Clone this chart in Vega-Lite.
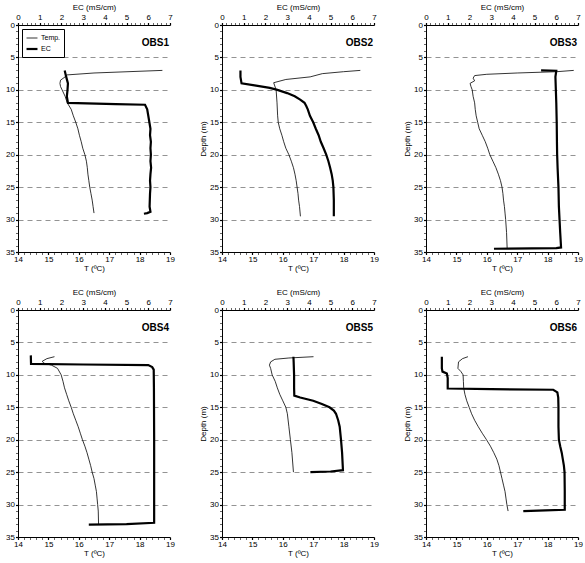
{
"$schema":"https://vega.github.io/schema/vega-lite/v6.json",
"padding":{"left":5,"top":3,"right":0,"bottom":0},
"config":{"font":"Liberation Sans","view":{"stroke":null},
 "axis":{"labelFontSize":8,"titleFontSize":8,"titleFontWeight":"normal","labelColor":"black","titleColor":"black","domainColor":"black","tickColor":"black","domainWidth":1,"tickSize":2.5,"tickCount":100,"labelOverlap":false,"labelFlush":false,"labelPadding":1},
 "text":{"font":"Liberation Sans"}},
"data":{"values":[
{"obs":"OBS1","var":"Temp.","depth":7.0,"v":18.75},{"obs":"OBS1","var":"Temp.","depth":7.4,"v":16.5},{"obs":"OBS1","var":"Temp.","depth":7.7,"v":15.6},{"obs":"OBS1","var":"Temp.","depth":8.0,"v":15.55},{"obs":"OBS1","var":"Temp.","depth":8.5,"v":15.4},{"obs":"OBS1","var":"Temp.","depth":9.0,"v":15.38},{"obs":"OBS1","var":"Temp.","depth":9.5,"v":15.4},{"obs":"OBS1","var":"Temp.","depth":10.0,"v":15.45},{"obs":"OBS1","var":"Temp.","depth":11.0,"v":15.55},{"obs":"OBS1","var":"Temp.","depth":12.0,"v":15.62},{"obs":"OBS1","var":"Temp.","depth":13.0,"v":15.75},{"obs":"OBS1","var":"Temp.","depth":14.0,"v":15.82},{"obs":"OBS1","var":"Temp.","depth":15.0,"v":15.9},{"obs":"OBS1","var":"Temp.","depth":16.0,"v":15.97},{"obs":"OBS1","var":"Temp.","depth":17.0,"v":16.02},{"obs":"OBS1","var":"Temp.","depth":18.0,"v":16.08},{"obs":"OBS1","var":"Temp.","depth":19.0,"v":16.13},{"obs":"OBS1","var":"Temp.","depth":20.0,"v":16.2},{"obs":"OBS1","var":"Temp.","depth":21.0,"v":16.25},{"obs":"OBS1","var":"Temp.","depth":22.0,"v":16.28},{"obs":"OBS1","var":"Temp.","depth":23.0,"v":16.3},{"obs":"OBS1","var":"Temp.","depth":24.0,"v":16.33},{"obs":"OBS1","var":"Temp.","depth":25.0,"v":16.36},{"obs":"OBS1","var":"Temp.","depth":26.0,"v":16.4},{"obs":"OBS1","var":"Temp.","depth":27.0,"v":16.44},{"obs":"OBS1","var":"Temp.","depth":28.0,"v":16.47},{"obs":"OBS1","var":"Temp.","depth":29.0,"v":16.5},
{"obs":"OBS1","var":"EC","depth":7.0,"v":2.15},{"obs":"OBS1","var":"EC","depth":8.0,"v":2.22},{"obs":"OBS1","var":"EC","depth":9.0,"v":2.3},{"obs":"OBS1","var":"EC","depth":10.0,"v":2.28},{"obs":"OBS1","var":"EC","depth":11.0,"v":2.25},{"obs":"OBS1","var":"EC","depth":12.0,"v":2.3},{"obs":"OBS1","var":"EC","depth":12.2,"v":4.5},{"obs":"OBS1","var":"EC","depth":12.3,"v":5.85},{"obs":"OBS1","var":"EC","depth":13.0,"v":5.95},{"obs":"OBS1","var":"EC","depth":14.0,"v":6.0},{"obs":"OBS1","var":"EC","depth":15.0,"v":6.05},{"obs":"OBS1","var":"EC","depth":16.0,"v":6.1},{"obs":"OBS1","var":"EC","depth":17.0,"v":6.08},{"obs":"OBS1","var":"EC","depth":18.0,"v":6.12},{"obs":"OBS1","var":"EC","depth":19.0,"v":6.1},{"obs":"OBS1","var":"EC","depth":20.0,"v":6.12},{"obs":"OBS1","var":"EC","depth":21.0,"v":6.1},{"obs":"OBS1","var":"EC","depth":22.0,"v":6.13},{"obs":"OBS1","var":"EC","depth":23.0,"v":6.1},{"obs":"OBS1","var":"EC","depth":24.0,"v":6.08},{"obs":"OBS1","var":"EC","depth":25.0,"v":6.1},{"obs":"OBS1","var":"EC","depth":26.0,"v":6.08},{"obs":"OBS1","var":"EC","depth":27.0,"v":6.07},{"obs":"OBS1","var":"EC","depth":28.0,"v":6.06},{"obs":"OBS1","var":"EC","depth":28.8,"v":6.1},{"obs":"OBS1","var":"EC","depth":29.0,"v":5.95},{"obs":"OBS1","var":"EC","depth":29.1,"v":5.8},
{"obs":"OBS2","var":"Temp.","depth":7.0,"v":18.55},{"obs":"OBS2","var":"Temp.","depth":7.2,"v":18.0},{"obs":"OBS2","var":"Temp.","depth":7.5,"v":17.3},{"obs":"OBS2","var":"Temp.","depth":8.0,"v":16.9},{"obs":"OBS2","var":"Temp.","depth":8.4,"v":16.1},{"obs":"OBS2","var":"Temp.","depth":8.9,"v":15.7},{"obs":"OBS2","var":"Temp.","depth":10.0,"v":15.78},{"obs":"OBS2","var":"Temp.","depth":12.0,"v":15.81},{"obs":"OBS2","var":"Temp.","depth":14.0,"v":15.83},{"obs":"OBS2","var":"Temp.","depth":15.0,"v":15.85},{"obs":"OBS2","var":"Temp.","depth":16.0,"v":15.9},{"obs":"OBS2","var":"Temp.","depth":17.0,"v":15.97},{"obs":"OBS2","var":"Temp.","depth":18.0,"v":16.03},{"obs":"OBS2","var":"Temp.","depth":19.0,"v":16.1},{"obs":"OBS2","var":"Temp.","depth":20.0,"v":16.2},{"obs":"OBS2","var":"Temp.","depth":21.0,"v":16.28},{"obs":"OBS2","var":"Temp.","depth":22.0,"v":16.35},{"obs":"OBS2","var":"Temp.","depth":23.0,"v":16.4},{"obs":"OBS2","var":"Temp.","depth":24.0,"v":16.44},{"obs":"OBS2","var":"Temp.","depth":25.0,"v":16.47},{"obs":"OBS2","var":"Temp.","depth":26.0,"v":16.5},{"obs":"OBS2","var":"Temp.","depth":27.0,"v":16.52},{"obs":"OBS2","var":"Temp.","depth":28.0,"v":16.55},{"obs":"OBS2","var":"Temp.","depth":29.5,"v":16.58},
{"obs":"OBS2","var":"EC","depth":7.0,"v":0.85},{"obs":"OBS2","var":"EC","depth":8.0,"v":0.85},{"obs":"OBS2","var":"EC","depth":9.0,"v":0.9},{"obs":"OBS2","var":"EC","depth":9.3,"v":1.5},{"obs":"OBS2","var":"EC","depth":9.7,"v":2.2},{"obs":"OBS2","var":"EC","depth":10.0,"v":2.55},{"obs":"OBS2","var":"EC","depth":10.5,"v":3.0},{"obs":"OBS2","var":"EC","depth":11.0,"v":3.35},{"obs":"OBS2","var":"EC","depth":11.5,"v":3.6},{"obs":"OBS2","var":"EC","depth":12.0,"v":3.8},{"obs":"OBS2","var":"EC","depth":12.5,"v":3.88},{"obs":"OBS2","var":"EC","depth":13.0,"v":3.95},{"obs":"OBS2","var":"EC","depth":14.0,"v":4.05},{"obs":"OBS2","var":"EC","depth":15.0,"v":4.2},{"obs":"OBS2","var":"EC","depth":16.0,"v":4.32},{"obs":"OBS2","var":"EC","depth":17.0,"v":4.45},{"obs":"OBS2","var":"EC","depth":18.0,"v":4.55},{"obs":"OBS2","var":"EC","depth":19.0,"v":4.68},{"obs":"OBS2","var":"EC","depth":20.0,"v":4.8},{"obs":"OBS2","var":"EC","depth":21.0,"v":4.9},{"obs":"OBS2","var":"EC","depth":22.0,"v":4.98},{"obs":"OBS2","var":"EC","depth":23.0,"v":5.05},{"obs":"OBS2","var":"EC","depth":24.0,"v":5.1},{"obs":"OBS2","var":"EC","depth":25.0,"v":5.13},{"obs":"OBS2","var":"EC","depth":27.0,"v":5.15},{"obs":"OBS2","var":"EC","depth":29.5,"v":5.15},
{"obs":"OBS3","var":"Temp.","depth":7.0,"v":18.86},{"obs":"OBS3","var":"Temp.","depth":7.2,"v":18.3},{"obs":"OBS3","var":"Temp.","depth":7.4,"v":17.0},{"obs":"OBS3","var":"Temp.","depth":7.6,"v":16.0},{"obs":"OBS3","var":"Temp.","depth":7.8,"v":15.6},{"obs":"OBS3","var":"Temp.","depth":8.2,"v":15.55},{"obs":"OBS3","var":"Temp.","depth":8.6,"v":15.6},{"obs":"OBS3","var":"Temp.","depth":9.0,"v":15.45},{"obs":"OBS3","var":"Temp.","depth":9.5,"v":15.48},{"obs":"OBS3","var":"Temp.","depth":10.0,"v":15.52},{"obs":"OBS3","var":"Temp.","depth":11.0,"v":15.55},{"obs":"OBS3","var":"Temp.","depth":12.0,"v":15.6},{"obs":"OBS3","var":"Temp.","depth":13.0,"v":15.62},{"obs":"OBS3","var":"Temp.","depth":14.0,"v":15.65},{"obs":"OBS3","var":"Temp.","depth":15.0,"v":15.7},{"obs":"OBS3","var":"Temp.","depth":16.0,"v":15.75},{"obs":"OBS3","var":"Temp.","depth":17.0,"v":15.85},{"obs":"OBS3","var":"Temp.","depth":18.0,"v":15.95},{"obs":"OBS3","var":"Temp.","depth":19.0,"v":16.03},{"obs":"OBS3","var":"Temp.","depth":20.0,"v":16.1},{"obs":"OBS3","var":"Temp.","depth":21.0,"v":16.2},{"obs":"OBS3","var":"Temp.","depth":22.0,"v":16.3},{"obs":"OBS3","var":"Temp.","depth":23.0,"v":16.38},{"obs":"OBS3","var":"Temp.","depth":24.0,"v":16.45},{"obs":"OBS3","var":"Temp.","depth":25.0,"v":16.5},{"obs":"OBS3","var":"Temp.","depth":26.0,"v":16.53},{"obs":"OBS3","var":"Temp.","depth":27.0,"v":16.55},{"obs":"OBS3","var":"Temp.","depth":28.0,"v":16.58},{"obs":"OBS3","var":"Temp.","depth":29.0,"v":16.6},{"obs":"OBS3","var":"Temp.","depth":30.0,"v":16.62},{"obs":"OBS3","var":"Temp.","depth":32.0,"v":16.65},{"obs":"OBS3","var":"Temp.","depth":34.5,"v":16.67},
{"obs":"OBS3","var":"EC","depth":7.0,"v":5.3},{"obs":"OBS3","var":"EC","depth":7.05,"v":6.0},{"obs":"OBS3","var":"EC","depth":8.0,"v":5.96},{"obs":"OBS3","var":"EC","depth":10.0,"v":5.98},{"obs":"OBS3","var":"EC","depth":12.0,"v":6.0},{"obs":"OBS3","var":"EC","depth":15.0,"v":6.02},{"obs":"OBS3","var":"EC","depth":18.0,"v":6.03},{"obs":"OBS3","var":"EC","depth":20.0,"v":6.04},{"obs":"OBS3","var":"EC","depth":22.0,"v":6.06},{"obs":"OBS3","var":"EC","depth":25.0,"v":6.1},{"obs":"OBS3","var":"EC","depth":28.0,"v":6.12},{"obs":"OBS3","var":"EC","depth":30.0,"v":6.15},{"obs":"OBS3","var":"EC","depth":32.0,"v":6.18},{"obs":"OBS3","var":"EC","depth":34.3,"v":6.22},{"obs":"OBS3","var":"EC","depth":34.4,"v":6.0},{"obs":"OBS3","var":"EC","depth":34.5,"v":3.13},
{"obs":"OBS4","var":"Temp.","depth":7.2,"v":15.2},{"obs":"OBS4","var":"Temp.","depth":7.5,"v":14.95},{"obs":"OBS4","var":"Temp.","depth":7.9,"v":14.8},{"obs":"OBS4","var":"Temp.","depth":8.2,"v":14.85},{"obs":"OBS4","var":"Temp.","depth":8.5,"v":15.1},{"obs":"OBS4","var":"Temp.","depth":9.0,"v":15.3},{"obs":"OBS4","var":"Temp.","depth":10.0,"v":15.42},{"obs":"OBS4","var":"Temp.","depth":11.0,"v":15.48},{"obs":"OBS4","var":"Temp.","depth":12.0,"v":15.53},{"obs":"OBS4","var":"Temp.","depth":13.0,"v":15.6},{"obs":"OBS4","var":"Temp.","depth":14.0,"v":15.67},{"obs":"OBS4","var":"Temp.","depth":15.0,"v":15.75},{"obs":"OBS4","var":"Temp.","depth":16.0,"v":15.82},{"obs":"OBS4","var":"Temp.","depth":17.0,"v":15.9},{"obs":"OBS4","var":"Temp.","depth":18.0,"v":15.98},{"obs":"OBS4","var":"Temp.","depth":19.0,"v":16.05},{"obs":"OBS4","var":"Temp.","depth":20.0,"v":16.12},{"obs":"OBS4","var":"Temp.","depth":21.0,"v":16.2},{"obs":"OBS4","var":"Temp.","depth":22.0,"v":16.27},{"obs":"OBS4","var":"Temp.","depth":23.0,"v":16.33},{"obs":"OBS4","var":"Temp.","depth":24.0,"v":16.39},{"obs":"OBS4","var":"Temp.","depth":25.0,"v":16.44},{"obs":"OBS4","var":"Temp.","depth":26.0,"v":16.5},{"obs":"OBS4","var":"Temp.","depth":27.0,"v":16.54},{"obs":"OBS4","var":"Temp.","depth":28.0,"v":16.58},{"obs":"OBS4","var":"Temp.","depth":29.0,"v":16.6},{"obs":"OBS4","var":"Temp.","depth":30.0,"v":16.62},{"obs":"OBS4","var":"Temp.","depth":31.0,"v":16.64},{"obs":"OBS4","var":"Temp.","depth":33.0,"v":16.65},
{"obs":"OBS4","var":"EC","depth":7.0,"v":0.59},{"obs":"OBS4","var":"EC","depth":8.3,"v":0.6},{"obs":"OBS4","var":"EC","depth":8.4,"v":3.0},{"obs":"OBS4","var":"EC","depth":8.5,"v":6.0},{"obs":"OBS4","var":"EC","depth":8.8,"v":6.18},{"obs":"OBS4","var":"EC","depth":9.2,"v":6.25},{"obs":"OBS4","var":"EC","depth":12.0,"v":6.26},{"obs":"OBS4","var":"EC","depth":20.0,"v":6.27},{"obs":"OBS4","var":"EC","depth":30.0,"v":6.27},{"obs":"OBS4","var":"EC","depth":32.8,"v":6.27},{"obs":"OBS4","var":"EC","depth":33.0,"v":5.0},{"obs":"OBS4","var":"EC","depth":33.1,"v":3.26},
{"obs":"OBS5","var":"Temp.","depth":7.2,"v":17.01},{"obs":"OBS5","var":"Temp.","depth":7.4,"v":16.2},{"obs":"OBS5","var":"Temp.","depth":7.6,"v":15.74},{"obs":"OBS5","var":"Temp.","depth":8.0,"v":15.6},{"obs":"OBS5","var":"Temp.","depth":8.5,"v":15.56},{"obs":"OBS5","var":"Temp.","depth":9.0,"v":15.6},{"obs":"OBS5","var":"Temp.","depth":10.0,"v":15.65},{"obs":"OBS5","var":"Temp.","depth":11.0,"v":15.75},{"obs":"OBS5","var":"Temp.","depth":12.0,"v":15.82},{"obs":"OBS5","var":"Temp.","depth":13.0,"v":15.9},{"obs":"OBS5","var":"Temp.","depth":14.0,"v":16.0},{"obs":"OBS5","var":"Temp.","depth":15.0,"v":16.1},{"obs":"OBS5","var":"Temp.","depth":16.0,"v":16.15},{"obs":"OBS5","var":"Temp.","depth":18.0,"v":16.2},{"obs":"OBS5","var":"Temp.","depth":20.0,"v":16.25},{"obs":"OBS5","var":"Temp.","depth":22.0,"v":16.3},{"obs":"OBS5","var":"Temp.","depth":25.0,"v":16.35},
{"obs":"OBS5","var":"EC","depth":7.2,"v":3.29},{"obs":"OBS5","var":"EC","depth":8.0,"v":3.3},{"obs":"OBS5","var":"EC","depth":10.0,"v":3.32},{"obs":"OBS5","var":"EC","depth":12.0,"v":3.32},{"obs":"OBS5","var":"EC","depth":13.2,"v":3.33},{"obs":"OBS5","var":"EC","depth":13.5,"v":3.6},{"obs":"OBS5","var":"EC","depth":14.0,"v":4.2},{"obs":"OBS5","var":"EC","depth":14.5,"v":4.6},{"obs":"OBS5","var":"EC","depth":15.0,"v":4.95},{"obs":"OBS5","var":"EC","depth":15.5,"v":5.15},{"obs":"OBS5","var":"EC","depth":16.0,"v":5.25},{"obs":"OBS5","var":"EC","depth":17.0,"v":5.35},{"obs":"OBS5","var":"EC","depth":18.0,"v":5.42},{"obs":"OBS5","var":"EC","depth":20.0,"v":5.48},{"obs":"OBS5","var":"EC","depth":22.0,"v":5.53},{"obs":"OBS5","var":"EC","depth":24.0,"v":5.56},{"obs":"OBS5","var":"EC","depth":24.7,"v":5.57},{"obs":"OBS5","var":"EC","depth":24.9,"v":5.0},{"obs":"OBS5","var":"EC","depth":25.0,"v":4.07},
{"obs":"OBS6","var":"Temp.","depth":7.2,"v":15.38},{"obs":"OBS6","var":"Temp.","depth":7.5,"v":15.2},{"obs":"OBS6","var":"Temp.","depth":8.0,"v":15.07},{"obs":"OBS6","var":"Temp.","depth":9.0,"v":15.05},{"obs":"OBS6","var":"Temp.","depth":9.5,"v":15.15},{"obs":"OBS6","var":"Temp.","depth":10.0,"v":15.22},{"obs":"OBS6","var":"Temp.","depth":11.0,"v":15.23},{"obs":"OBS6","var":"Temp.","depth":12.0,"v":15.24},{"obs":"OBS6","var":"Temp.","depth":13.0,"v":15.28},{"obs":"OBS6","var":"Temp.","depth":14.0,"v":15.34},{"obs":"OBS6","var":"Temp.","depth":15.0,"v":15.42},{"obs":"OBS6","var":"Temp.","depth":16.0,"v":15.5},{"obs":"OBS6","var":"Temp.","depth":17.0,"v":15.6},{"obs":"OBS6","var":"Temp.","depth":18.0,"v":15.72},{"obs":"OBS6","var":"Temp.","depth":19.0,"v":15.85},{"obs":"OBS6","var":"Temp.","depth":20.0,"v":15.99},{"obs":"OBS6","var":"Temp.","depth":21.0,"v":16.12},{"obs":"OBS6","var":"Temp.","depth":22.0,"v":16.23},{"obs":"OBS6","var":"Temp.","depth":23.0,"v":16.33},{"obs":"OBS6","var":"Temp.","depth":24.0,"v":16.4},{"obs":"OBS6","var":"Temp.","depth":25.0,"v":16.45},{"obs":"OBS6","var":"Temp.","depth":26.0,"v":16.5},{"obs":"OBS6","var":"Temp.","depth":27.0,"v":16.55},{"obs":"OBS6","var":"Temp.","depth":28.0,"v":16.6},{"obs":"OBS6","var":"Temp.","depth":29.0,"v":16.63},{"obs":"OBS6","var":"Temp.","depth":30.0,"v":16.66},{"obs":"OBS6","var":"Temp.","depth":31.0,"v":16.7},
{"obs":"OBS6","var":"EC","depth":7.2,"v":0.73},{"obs":"OBS6","var":"EC","depth":9.0,"v":0.73},{"obs":"OBS6","var":"EC","depth":9.5,"v":0.76},{"obs":"OBS6","var":"EC","depth":9.8,"v":0.96},{"obs":"OBS6","var":"EC","depth":10.5,"v":1.0},{"obs":"OBS6","var":"EC","depth":12.1,"v":1.0},{"obs":"OBS6","var":"EC","depth":12.2,"v":3.0},{"obs":"OBS6","var":"EC","depth":12.3,"v":5.86},{"obs":"OBS6","var":"EC","depth":12.7,"v":6.05},{"obs":"OBS6","var":"EC","depth":13.5,"v":6.09},{"obs":"OBS6","var":"EC","depth":15.0,"v":6.1},{"obs":"OBS6","var":"EC","depth":18.0,"v":6.1},{"obs":"OBS6","var":"EC","depth":20.0,"v":6.12},{"obs":"OBS6","var":"EC","depth":21.0,"v":6.18},{"obs":"OBS6","var":"EC","depth":22.0,"v":6.25},{"obs":"OBS6","var":"EC","depth":23.0,"v":6.3},{"obs":"OBS6","var":"EC","depth":24.0,"v":6.35},{"obs":"OBS6","var":"EC","depth":25.0,"v":6.38},{"obs":"OBS6","var":"EC","depth":28.0,"v":6.39},{"obs":"OBS6","var":"EC","depth":30.8,"v":6.39},{"obs":"OBS6","var":"EC","depth":30.9,"v":5.5},{"obs":"OBS6","var":"EC","depth":31.0,"v":4.48}
]},
"columns":3,
"spacing":{"row":58,"column":52},
"bounds":"flush",
"resolve":{"scale":{"strokeWidth":"independent"}},
"concat":[
{"width":152,"height":227,"resolve":{"scale":{"x":"independent"}},"layer":[
 {"transform":[{"filter":"datum.obs==='OBS1' && datum.var==='Temp.'"}],"mark":{"type":"line","color":"black"},"encoding":{
  "x":{"field":"v","type":"quantitative","scale":{"domain":[14,19],"nice":false,"zero":false},"axis":{"orient":"bottom","title":"T (ºC)","values":[14,14.2,14.4,14.6,14.8,15,15.2,15.4,15.6,15.8,16,16.2,16.4,16.6,16.8,17,17.2,17.4,17.6,17.8,18,18.2,18.4,18.6,18.8,19],"labelExpr":"datum.value % 1 === 0 ? format(datum.value, 'd') : ''","tickWidth":{"condition":{"test":"datum.value % 1 === 0","value":1.2},"value":0.6},"grid":false,"titlePadding":1}},
  "y":{"field":"depth","type":"quantitative","scale":{"domain":[0,35],"reverse":true,"nice":false,"zero":false},"axis":{"title":null,"values":[0,1,2,3,4,5,6,7,8,9,10,11,12,13,14,15,16,17,18,19,20,21,22,23,24,25,26,27,28,29,30,31,32,33,34,35],"labelExpr":"datum.value % 5 === 0 ? format(datum.value, 'd') : ''","tickWidth":{"condition":{"test":"datum.value % 5 === 0","value":1.2},"value":0.6},"grid":true,"gridDash":[5,4],"gridColor":"#777","gridWidth":0.8,"gridOpacity":{"condition":{"test":"datum.value % 5 === 0","value":1},"value":0},"titlePadding":2}},
  "order":{"field":"depth","type":"quantitative"},
  "strokeWidth":{"field":"var","type":"nominal","scale":{"domain":["Temp.","EC"],"range":[0.8,2.2]},"legend":{"orient":"top-left","offset":4,"title":null,"strokeColor":"black","fillColor":"white","padding":3,"labelFontSize":7,"symbolType":"stroke","symbolStrokeColor":"black","symbolSize":120,"rowPadding":1,"labelOffset":2}}}},
 {"transform":[{"filter":"datum.obs==='OBS1' && datum.var==='EC'"}],"mark":{"type":"line","color":"black"},"encoding":{
  "x":{"field":"v","type":"quantitative","scale":{"domain":[0,7],"nice":false,"zero":false},"axis":{"orient":"top","title":"EC (mS/cm)","values":[0,0.2,0.4,0.6,0.8,1,1.2,1.4,1.6,1.8,2,2.2,2.4,2.6,2.8,3,3.2,3.4,3.6,3.8,4,4.2,4.4,4.6,4.8,5,5.2,5.4,5.6,5.8,6,6.2,6.4,6.6,6.8,7],"labelExpr":"datum.value % 1 === 0 ? format(datum.value, 'd') : ''","tickWidth":{"condition":{"test":"datum.value % 1 === 0","value":1.2},"value":0.6},"grid":false,"titlePadding":2}},
  "y":{"field":"depth","type":"quantitative"},
  "order":{"field":"depth","type":"quantitative"},
  "strokeWidth":{"field":"var","type":"nominal"}}},
 {"data":{"values":[{"label":"OBS1"}]},"mark":{"type":"text","fontWeight":"bold","fontSize":10,"align":"right","baseline":"middle","dx":-1},"encoding":{"text":{"field":"label"},"x":{"datum":7,"type":"quantitative","scale":{"domain":[0,7],"nice":false},"axis":null},"y":{"datum":2.7,"type":"quantitative"}}}
]},
{"width":152,"height":227,"resolve":{"scale":{"x":"independent"}},"layer":[
 {"transform":[{"filter":"datum.obs==='OBS2' && datum.var==='Temp.'"}],"mark":{"type":"line","color":"black"},"encoding":{
  "x":{"field":"v","type":"quantitative","scale":{"domain":[14,19],"nice":false,"zero":false},"axis":{"orient":"bottom","title":"T (ºC)","values":[14,14.2,14.4,14.6,14.8,15,15.2,15.4,15.6,15.8,16,16.2,16.4,16.6,16.8,17,17.2,17.4,17.6,17.8,18,18.2,18.4,18.6,18.8,19],"labelExpr":"datum.value % 1 === 0 ? format(datum.value, 'd') : ''","tickWidth":{"condition":{"test":"datum.value % 1 === 0","value":1.2},"value":0.6},"grid":false,"titlePadding":1}},
  "y":{"field":"depth","type":"quantitative","scale":{"domain":[0,35],"reverse":true,"nice":false,"zero":false},"axis":{"title":"Depth (m)","values":[0,1,2,3,4,5,6,7,8,9,10,11,12,13,14,15,16,17,18,19,20,21,22,23,24,25,26,27,28,29,30,31,32,33,34,35],"labelExpr":"datum.value % 5 === 0 ? format(datum.value, 'd') : ''","tickWidth":{"condition":{"test":"datum.value % 5 === 0","value":1.2},"value":0.6},"grid":true,"gridDash":[5,4],"gridColor":"#777","gridWidth":0.8,"gridOpacity":{"condition":{"test":"datum.value % 5 === 0","value":1},"value":0},"titlePadding":2}},
  "order":{"field":"depth","type":"quantitative"},
  "strokeWidth":{"field":"var","type":"nominal","scale":{"domain":["Temp.","EC"],"range":[0.8,2.2]},"legend":null}}},
 {"transform":[{"filter":"datum.obs==='OBS2' && datum.var==='EC'"}],"mark":{"type":"line","color":"black"},"encoding":{
  "x":{"field":"v","type":"quantitative","scale":{"domain":[0,7],"nice":false,"zero":false},"axis":{"orient":"top","title":"EC (mS/cm)","values":[0,0.2,0.4,0.6,0.8,1,1.2,1.4,1.6,1.8,2,2.2,2.4,2.6,2.8,3,3.2,3.4,3.6,3.8,4,4.2,4.4,4.6,4.8,5,5.2,5.4,5.6,5.8,6,6.2,6.4,6.6,6.8,7],"labelExpr":"datum.value % 1 === 0 ? format(datum.value, 'd') : ''","tickWidth":{"condition":{"test":"datum.value % 1 === 0","value":1.2},"value":0.6},"grid":false,"titlePadding":2}},
  "y":{"field":"depth","type":"quantitative"},
  "order":{"field":"depth","type":"quantitative"},
  "strokeWidth":{"field":"var","type":"nominal"}}},
 {"data":{"values":[{"label":"OBS2"}]},"mark":{"type":"text","fontWeight":"bold","fontSize":10,"align":"right","baseline":"middle","dx":-1},"encoding":{"text":{"field":"label"},"x":{"datum":7,"type":"quantitative","scale":{"domain":[0,7],"nice":false},"axis":null},"y":{"datum":2.7,"type":"quantitative"}}}
]},
{"width":152,"height":227,"resolve":{"scale":{"x":"independent"}},"layer":[
 {"transform":[{"filter":"datum.obs==='OBS3' && datum.var==='Temp.'"}],"mark":{"type":"line","color":"black"},"encoding":{
  "x":{"field":"v","type":"quantitative","scale":{"domain":[14,19],"nice":false,"zero":false},"axis":{"orient":"bottom","title":"T (ºC)","values":[14,14.2,14.4,14.6,14.8,15,15.2,15.4,15.6,15.8,16,16.2,16.4,16.6,16.8,17,17.2,17.4,17.6,17.8,18,18.2,18.4,18.6,18.8,19],"labelExpr":"datum.value % 1 === 0 ? format(datum.value, 'd') : ''","tickWidth":{"condition":{"test":"datum.value % 1 === 0","value":1.2},"value":0.6},"grid":false,"titlePadding":1}},
  "y":{"field":"depth","type":"quantitative","scale":{"domain":[0,35],"reverse":true,"nice":false,"zero":false},"axis":{"title":"Depth (m)","values":[0,1,2,3,4,5,6,7,8,9,10,11,12,13,14,15,16,17,18,19,20,21,22,23,24,25,26,27,28,29,30,31,32,33,34,35],"labelExpr":"datum.value % 5 === 0 ? format(datum.value, 'd') : ''","tickWidth":{"condition":{"test":"datum.value % 5 === 0","value":1.2},"value":0.6},"grid":true,"gridDash":[5,4],"gridColor":"#777","gridWidth":0.8,"gridOpacity":{"condition":{"test":"datum.value % 5 === 0","value":1},"value":0},"titlePadding":2}},
  "order":{"field":"depth","type":"quantitative"},
  "strokeWidth":{"field":"var","type":"nominal","scale":{"domain":["Temp.","EC"],"range":[0.8,2.2]},"legend":null}}},
 {"transform":[{"filter":"datum.obs==='OBS3' && datum.var==='EC'"}],"mark":{"type":"line","color":"black"},"encoding":{
  "x":{"field":"v","type":"quantitative","scale":{"domain":[0,7],"nice":false,"zero":false},"axis":{"orient":"top","title":"EC (mS/cm)","values":[0,0.2,0.4,0.6,0.8,1,1.2,1.4,1.6,1.8,2,2.2,2.4,2.6,2.8,3,3.2,3.4,3.6,3.8,4,4.2,4.4,4.6,4.8,5,5.2,5.4,5.6,5.8,6,6.2,6.4,6.6,6.8,7],"labelExpr":"datum.value % 1 === 0 ? format(datum.value, 'd') : ''","tickWidth":{"condition":{"test":"datum.value % 1 === 0","value":1.2},"value":0.6},"grid":false,"titlePadding":2}},
  "y":{"field":"depth","type":"quantitative"},
  "order":{"field":"depth","type":"quantitative"},
  "strokeWidth":{"field":"var","type":"nominal"}}},
 {"data":{"values":[{"label":"OBS3"}]},"mark":{"type":"text","fontWeight":"bold","fontSize":10,"align":"right","baseline":"middle","dx":-1},"encoding":{"text":{"field":"label"},"x":{"datum":7,"type":"quantitative","scale":{"domain":[0,7],"nice":false},"axis":null},"y":{"datum":2.7,"type":"quantitative"}}}
]},
{"width":152,"height":227,"resolve":{"scale":{"x":"independent"}},"layer":[
 {"transform":[{"filter":"datum.obs==='OBS4' && datum.var==='Temp.'"}],"mark":{"type":"line","color":"black"},"encoding":{
  "x":{"field":"v","type":"quantitative","scale":{"domain":[14,19],"nice":false,"zero":false},"axis":{"orient":"bottom","title":"T (ºC)","values":[14,14.2,14.4,14.6,14.8,15,15.2,15.4,15.6,15.8,16,16.2,16.4,16.6,16.8,17,17.2,17.4,17.6,17.8,18,18.2,18.4,18.6,18.8,19],"labelExpr":"datum.value % 1 === 0 ? format(datum.value, 'd') : ''","tickWidth":{"condition":{"test":"datum.value % 1 === 0","value":1.2},"value":0.6},"grid":false,"titlePadding":1}},
  "y":{"field":"depth","type":"quantitative","scale":{"domain":[0,35],"reverse":true,"nice":false,"zero":false},"axis":{"title":null,"values":[0,1,2,3,4,5,6,7,8,9,10,11,12,13,14,15,16,17,18,19,20,21,22,23,24,25,26,27,28,29,30,31,32,33,34,35],"labelExpr":"datum.value % 5 === 0 ? format(datum.value, 'd') : ''","tickWidth":{"condition":{"test":"datum.value % 5 === 0","value":1.2},"value":0.6},"grid":true,"gridDash":[5,4],"gridColor":"#777","gridWidth":0.8,"gridOpacity":{"condition":{"test":"datum.value % 5 === 0","value":1},"value":0},"titlePadding":2}},
  "order":{"field":"depth","type":"quantitative"},
  "strokeWidth":{"field":"var","type":"nominal","scale":{"domain":["Temp.","EC"],"range":[0.8,2.2]},"legend":null}}},
 {"transform":[{"filter":"datum.obs==='OBS4' && datum.var==='EC'"}],"mark":{"type":"line","color":"black"},"encoding":{
  "x":{"field":"v","type":"quantitative","scale":{"domain":[0,7],"nice":false,"zero":false},"axis":{"orient":"top","title":"EC (mS/cm)","values":[0,0.2,0.4,0.6,0.8,1,1.2,1.4,1.6,1.8,2,2.2,2.4,2.6,2.8,3,3.2,3.4,3.6,3.8,4,4.2,4.4,4.6,4.8,5,5.2,5.4,5.6,5.8,6,6.2,6.4,6.6,6.8,7],"labelExpr":"datum.value % 1 === 0 ? format(datum.value, 'd') : ''","tickWidth":{"condition":{"test":"datum.value % 1 === 0","value":1.2},"value":0.6},"grid":false,"titlePadding":2}},
  "y":{"field":"depth","type":"quantitative"},
  "order":{"field":"depth","type":"quantitative"},
  "strokeWidth":{"field":"var","type":"nominal"}}},
 {"data":{"values":[{"label":"OBS4"}]},"mark":{"type":"text","fontWeight":"bold","fontSize":10,"align":"right","baseline":"middle","dx":-1},"encoding":{"text":{"field":"label"},"x":{"datum":7,"type":"quantitative","scale":{"domain":[0,7],"nice":false},"axis":null},"y":{"datum":2.7,"type":"quantitative"}}}
]},
{"width":152,"height":227,"resolve":{"scale":{"x":"independent"}},"layer":[
 {"transform":[{"filter":"datum.obs==='OBS5' && datum.var==='Temp.'"}],"mark":{"type":"line","color":"black"},"encoding":{
  "x":{"field":"v","type":"quantitative","scale":{"domain":[14,19],"nice":false,"zero":false},"axis":{"orient":"bottom","title":"T (ºC)","values":[14,14.2,14.4,14.6,14.8,15,15.2,15.4,15.6,15.8,16,16.2,16.4,16.6,16.8,17,17.2,17.4,17.6,17.8,18,18.2,18.4,18.6,18.8,19],"labelExpr":"datum.value % 1 === 0 ? format(datum.value, 'd') : ''","tickWidth":{"condition":{"test":"datum.value % 1 === 0","value":1.2},"value":0.6},"grid":false,"titlePadding":1}},
  "y":{"field":"depth","type":"quantitative","scale":{"domain":[0,35],"reverse":true,"nice":false,"zero":false},"axis":{"title":"Depth (m)","values":[0,1,2,3,4,5,6,7,8,9,10,11,12,13,14,15,16,17,18,19,20,21,22,23,24,25,26,27,28,29,30,31,32,33,34,35],"labelExpr":"datum.value % 5 === 0 ? format(datum.value, 'd') : ''","tickWidth":{"condition":{"test":"datum.value % 5 === 0","value":1.2},"value":0.6},"grid":true,"gridDash":[5,4],"gridColor":"#777","gridWidth":0.8,"gridOpacity":{"condition":{"test":"datum.value % 5 === 0","value":1},"value":0},"titlePadding":2}},
  "order":{"field":"depth","type":"quantitative"},
  "strokeWidth":{"field":"var","type":"nominal","scale":{"domain":["Temp.","EC"],"range":[0.8,2.2]},"legend":null}}},
 {"transform":[{"filter":"datum.obs==='OBS5' && datum.var==='EC'"}],"mark":{"type":"line","color":"black"},"encoding":{
  "x":{"field":"v","type":"quantitative","scale":{"domain":[0,7],"nice":false,"zero":false},"axis":{"orient":"top","title":"EC (mS/cm)","values":[0,0.2,0.4,0.6,0.8,1,1.2,1.4,1.6,1.8,2,2.2,2.4,2.6,2.8,3,3.2,3.4,3.6,3.8,4,4.2,4.4,4.6,4.8,5,5.2,5.4,5.6,5.8,6,6.2,6.4,6.6,6.8,7],"labelExpr":"datum.value % 1 === 0 ? format(datum.value, 'd') : ''","tickWidth":{"condition":{"test":"datum.value % 1 === 0","value":1.2},"value":0.6},"grid":false,"titlePadding":2}},
  "y":{"field":"depth","type":"quantitative"},
  "order":{"field":"depth","type":"quantitative"},
  "strokeWidth":{"field":"var","type":"nominal"}}},
 {"data":{"values":[{"label":"OBS5"}]},"mark":{"type":"text","fontWeight":"bold","fontSize":10,"align":"right","baseline":"middle","dx":-1},"encoding":{"text":{"field":"label"},"x":{"datum":7,"type":"quantitative","scale":{"domain":[0,7],"nice":false},"axis":null},"y":{"datum":2.7,"type":"quantitative"}}}
]},
{"width":152,"height":227,"resolve":{"scale":{"x":"independent"}},"layer":[
 {"transform":[{"filter":"datum.obs==='OBS6' && datum.var==='Temp.'"}],"mark":{"type":"line","color":"black"},"encoding":{
  "x":{"field":"v","type":"quantitative","scale":{"domain":[14,19],"nice":false,"zero":false},"axis":{"orient":"bottom","title":"T (ºC)","values":[14,14.2,14.4,14.6,14.8,15,15.2,15.4,15.6,15.8,16,16.2,16.4,16.6,16.8,17,17.2,17.4,17.6,17.8,18,18.2,18.4,18.6,18.8,19],"labelExpr":"datum.value % 1 === 0 ? format(datum.value, 'd') : ''","tickWidth":{"condition":{"test":"datum.value % 1 === 0","value":1.2},"value":0.6},"grid":false,"titlePadding":1}},
  "y":{"field":"depth","type":"quantitative","scale":{"domain":[0,35],"reverse":true,"nice":false,"zero":false},"axis":{"title":"Depth (m)","values":[0,1,2,3,4,5,6,7,8,9,10,11,12,13,14,15,16,17,18,19,20,21,22,23,24,25,26,27,28,29,30,31,32,33,34,35],"labelExpr":"datum.value % 5 === 0 ? format(datum.value, 'd') : ''","tickWidth":{"condition":{"test":"datum.value % 5 === 0","value":1.2},"value":0.6},"grid":true,"gridDash":[5,4],"gridColor":"#777","gridWidth":0.8,"gridOpacity":{"condition":{"test":"datum.value % 5 === 0","value":1},"value":0},"titlePadding":2}},
  "order":{"field":"depth","type":"quantitative"},
  "strokeWidth":{"field":"var","type":"nominal","scale":{"domain":["Temp.","EC"],"range":[0.8,2.2]},"legend":null}}},
 {"transform":[{"filter":"datum.obs==='OBS6' && datum.var==='EC'"}],"mark":{"type":"line","color":"black"},"encoding":{
  "x":{"field":"v","type":"quantitative","scale":{"domain":[0,7],"nice":false,"zero":false},"axis":{"orient":"top","title":"EC (mS/cm)","values":[0,0.2,0.4,0.6,0.8,1,1.2,1.4,1.6,1.8,2,2.2,2.4,2.6,2.8,3,3.2,3.4,3.6,3.8,4,4.2,4.4,4.6,4.8,5,5.2,5.4,5.6,5.8,6,6.2,6.4,6.6,6.8,7],"labelExpr":"datum.value % 1 === 0 ? format(datum.value, 'd') : ''","tickWidth":{"condition":{"test":"datum.value % 1 === 0","value":1.2},"value":0.6},"grid":false,"titlePadding":2}},
  "y":{"field":"depth","type":"quantitative"},
  "order":{"field":"depth","type":"quantitative"},
  "strokeWidth":{"field":"var","type":"nominal"}}},
 {"data":{"values":[{"label":"OBS6"}]},"mark":{"type":"text","fontWeight":"bold","fontSize":10,"align":"right","baseline":"middle","dx":-1},"encoding":{"text":{"field":"label"},"x":{"datum":7,"type":"quantitative","scale":{"domain":[0,7],"nice":false},"axis":null},"y":{"datum":2.7,"type":"quantitative"}}}
]}
]
}
